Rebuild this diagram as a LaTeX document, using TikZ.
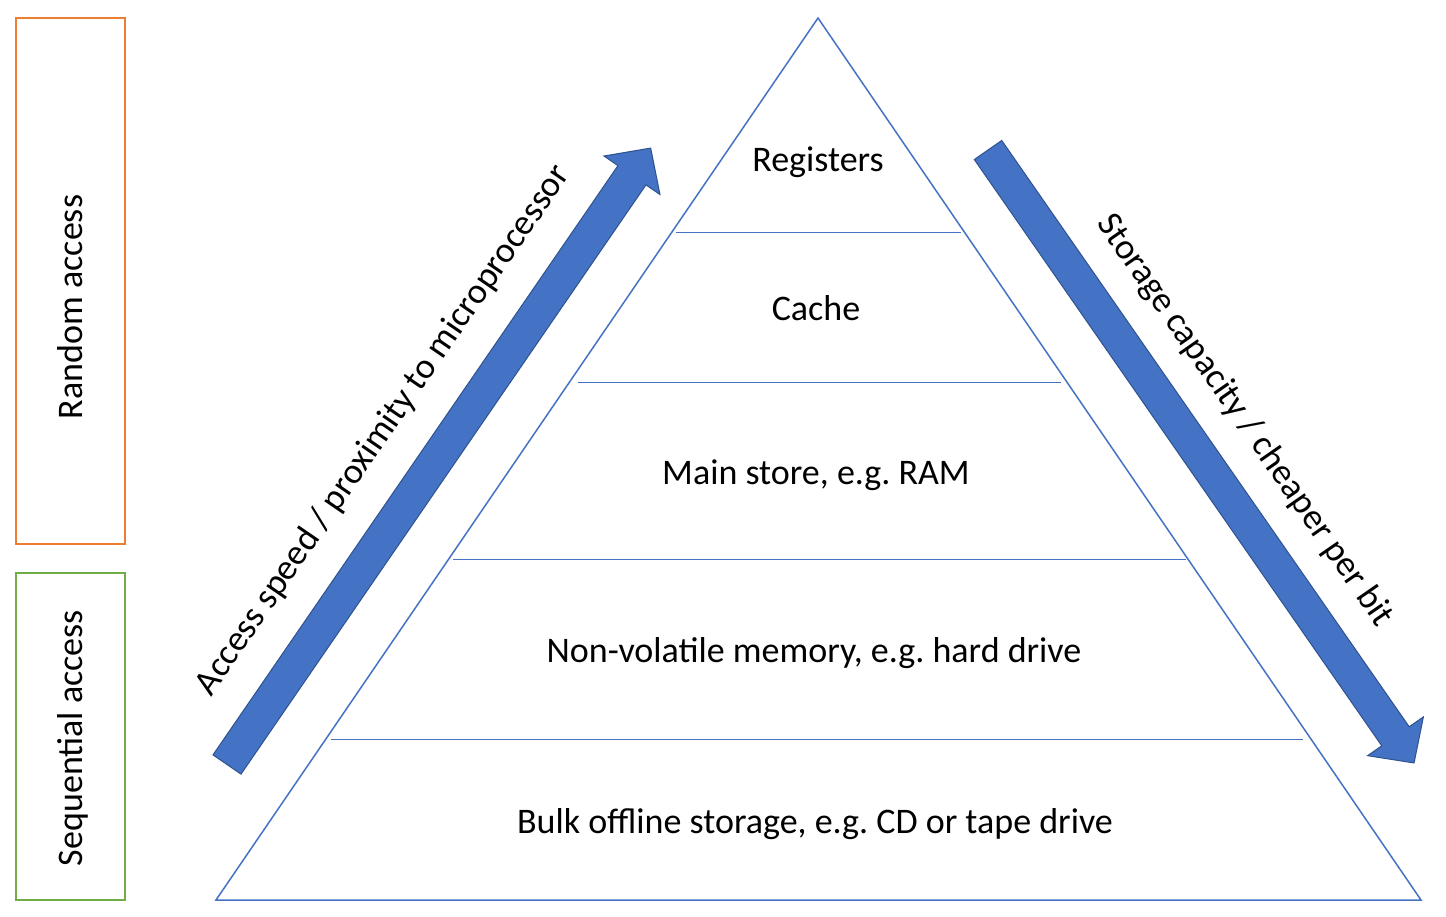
\documentclass[tikz,border=0pt]{standalone}
\usepackage{fontspec}
\setmainfont{Carlito}
\usepackage{tikz}
\frenchspacing
\definecolor{tri}{HTML}{4472C4}
\definecolor{arrowedge}{HTML}{2F528F}
\definecolor{randbox}{HTML}{ED7D31}
\definecolor{seqbox}{HTML}{70AD47}

\begin{document}
\begin{tikzpicture}[x=1pt,y=-1pt]
\tikzstyle{every node}=[font=\fontsize{36}{42}\selectfont,inner sep=0pt]
\tikzstyle{level}=[tri,line width=1pt]
\tikzstyle{bigarrow}=[fill=tri,draw=arrowedge,line width=1pt,line join=miter]
\useasboundingbox (0,0) rectangle (1446,917);
% access boxes on the left
\draw[randbox,line width=2pt](16,18) rectangle (125,544);
\node[rotate=90,anchor=base] (random) at (82,307) {Random access};
\draw[seqbox,line width=2pt](16,573) rectangle (125,900);
\node[rotate=90,anchor=base] (sequential) at (82,738) {Sequential access};
% pyramid
\coordinate (top) at (818,18);
\coordinate (bl) at (216,900);
\coordinate (br) at (1421,900);
\draw[tri,line width=1.5pt](top)--(br)--(bl)--cycle;
\draw[level](676,233)--(961,233);
\draw[level](578,382)--(1061,382);
\draw[level](453,559)--(1186,559);
\draw[level](331,739)--(1303,739);
\node[anchor=base] (registers) at (818,172) {Registers};
\node[anchor=base] (cache) at (816,320) {Cache};
\node[anchor=base] (ram) at (816,484) {Main store, e.g. RAM};
\node[anchor=base] (hdd) at (814,662) {Non-volatile memory, e.g. hard drive};
\node[anchor=base] (bulk) at (815,833) {Bulk offline storage, e.g. CD or tape drive};
% speed arrow
\begin{scope}[shift={(227,764.5)},rotate=55.5]
\draw[bigarrow](0,-17)--(715,-17)--(715,-34)--(748,0)--(715,34)--(715,17)--(0,17)--cycle;
\node[transform shape,anchor=base] (speed) at (364,-51) {Access speed / proximity to microprocessor};
\end{scope}
% capacity arrow
\begin{scope}[shift={(988,150)},rotate=-55.2]
\draw[bigarrow](0,-16.7)--(714,-16.7)--(714,-34)--(746.5,0)--(714,34)--(714,16.7)--(0,16.7)--cycle;
\node[transform shape,anchor=base] (capacity) at (369,-47) {Storage capacity / cheaper per bit};
\end{scope}
\end{tikzpicture}
\end{document}
